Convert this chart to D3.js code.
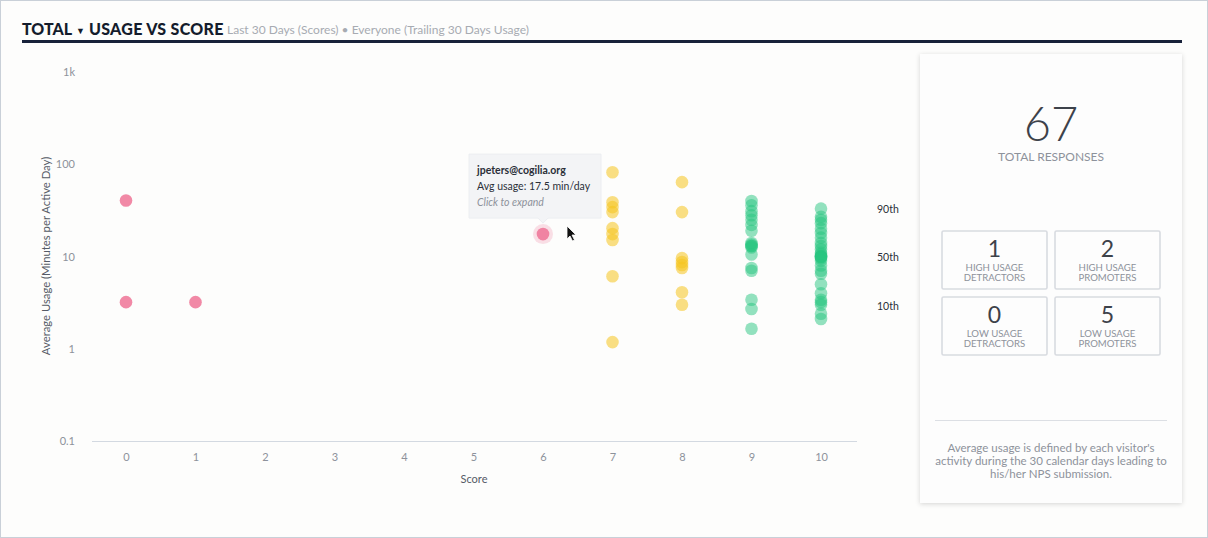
<!DOCTYPE html>
<html>
<head>
<meta charset="utf-8">
<script src="https://cdn.jsdelivr.net/npm/d3@7"></script>
<style>
  body { margin: 0; background: #fdfdfc; }
  svg { display: block; font-family: Lato, "Open Sans", sans-serif; }
</style>
</head>
<body>
<div id="chart"></div>
<script>
// scores and average usage (min per active day) per response
const scores0 = [0, 0, 1, 6];
const usage0 = [40.5, 3.2, 3.2, 17.5];
const scores7 = [7, 7, 7, 7, 7, 7, 7, 7, 7];
const usage7 = [82, 38.8, 34.3, 30.3, 20.3, 17.5, 15.1, 6.1, 1.18];
const scores8 = [8, 8, 8, 8, 8, 8, 8, 8];
const usage8 = [64, 30.3, 9.6, 8.7, 8.1, 7.5, 4.1, 3.0];
const scores9 = [9, 9, 9, 9, 9, 9, 9, 9, 9, 9, 9, 9, 9, 9, 9, 9, 9, 9];
const usage9 = [40, 36, 31, 28, 25, 22, 19, 14, 13.5, 13, 13, 12.5, 10.5, 7.5, 7, 3.4, 2.7, 1.65];
const scores10 = [10, 10, 10, 10, 10, 10, 10, 10, 10, 10, 10, 10, 10, 10, 10, 10, 10, 10, 10, 10, 10, 10, 10, 10, 10, 10, 10, 10];
const usage10 = [33, 27, 25, 23, 20, 18, 16, 14, 13, 12, 11, 10.5, 10, 10, 10, 9.8, 9.5, 9, 8, 7, 6.5, 5, 4, 3.4, 3.2, 3, 2.4, 2.1];

const xTicks = [0, 1, 2, 3, 4, 5, 6, 7, 8, 9, 10];
const yTicks = [0.1, 1, 10, 100, 1000];
const pctLabels = ["90th", "50th", "10th"];
const pctValues = [32.5, 10, 2.9];

const totalResponses = 67;
const boxValues = [1, 2, 0, 5];
const boxLabels = [["HIGH USAGE", "DETRACTORS"], ["HIGH USAGE", "PROMOTERS"],
                   ["LOW USAGE", "DETRACTORS"], ["LOW USAGE", "PROMOTERS"]];
const noteLines = ["Average usage is defined by each visitor's",
                   "activity during the 30 calendar days leading to",
                   "his/her NPS submission."];

const hovered = {score: 6, usage: 17.5, email: "jpeters@cogilia.org"};

const W = 1208, H = 538;
const svg = d3.select("#chart").append("svg")
  .attr("width", W).attr("height", H);

const defs = svg.append("defs");
const f = defs.append("filter").attr("id", "shadow")
  .attr("x", "-10%").attr("y", "-10%").attr("width", "120%").attr("height", "120%");
f.append("feDropShadow").attr("dx", 0).attr("dy", 1).attr("stdDeviation", 2.5)
  .attr("flood-color", "#000").attr("flood-opacity", 0.16);

svg.append("rect").attr("x", 0.5).attr("y", 0.5).attr("width", W - 1).attr("height", H - 1)
  .attr("fill", "#fdfdfc").attr("stroke", "#c9d0d8");

// header
const title = svg.append("text").attr("x", 22).attr("y", 35)
  .attr("font-size", 16).attr("font-weight", 900).attr("fill", "#141c2c");
title.append("tspan").text("TOTAL");
title.append("tspan").attr("font-size", 9).attr("dx", 4).attr("dy", -1.5).text("▼");
title.append("tspan").attr("dx", 4).attr("dy", 1.5).attr("letter-spacing", 0.3).text("USAGE VS SCORE");
svg.append("text").attr("x", 227).attr("y", 34).attr("font-size", 12)
  .attr("fill", "#a7abb2").text("Last 30 Days (Scores) • Everyone (Trailing 30 Days Usage)");
svg.append("rect").attr("x", 22).attr("y", 40).attr("width", 1160).attr("height", 3)
  .attr("fill", "#18223a");

// scales
const x = d3.scaleLinear().domain([0, 10]).range([126, 821]);
const y = d3.scaleLog().domain([0.1, 1000]).range([441, 72]);

svg.append("line").attr("x1", 92).attr("x2", 857)
  .attr("y1", y(0.1) + 0.5).attr("y2", y(0.1) + 0.5)
  .attr("stroke", "#d3d9e1").attr("stroke-width", 1);

const xAxis = svg.append("g").attr("transform", "translate(0," + (y(0.1) + 9) + ")")
  .call(d3.axisBottom(x).tickValues(xTicks).tickSize(0).tickFormat(d3.format("d")));
xAxis.select(".domain").remove();
xAxis.selectAll("text").attr("font-size", 11).attr("fill", "#8d929b")
  .attr("font-family", "Lato, sans-serif");

const yAxis = svg.append("g").attr("transform", "translate(78,0)")
  .call(d3.axisLeft(y).tickValues(yTicks).tickSize(0)
    .tickFormat(d => d >= 1000 ? (d / 1000) + "k" : String(d)));
yAxis.select(".domain").remove();
yAxis.selectAll("text").attr("font-size", 11).attr("fill", "#8d929b")
  .attr("font-family", "Lato, sans-serif");

svg.append("text").attr("x", 474).attr("y", 483).attr("text-anchor", "middle")
  .attr("font-size", 11).attr("fill", "#555b66").text("Score");
svg.append("text").attr("transform", "translate(50,256) rotate(-90)")
  .attr("text-anchor", "middle").attr("font-size", 11.3).attr("fill", "#555b66")
  .text("Average Usage (Minutes per Active Day)");

// points
function pts(s, u) { return s.map((d, i) => ({score: d, usage: u[i]})); }
const groups = [
  {data: pts(scores0, usage0), color: "#ee6f93", op: 0.82},
  {data: pts(scores7, usage7), color: "#f5c41e", op: 0.55},
  {data: pts(scores8, usage8), color: "#f5c41e", op: 0.55},
  {data: pts(scores9, usage9), color: "#27c57f", op: 0.5},
  {data: pts(scores10, usage10), color: "#27c57f", op: 0.5}
];

// halo of hovered point
svg.append("circle").attr("cx", x(hovered.score)).attr("cy", y(hovered.usage))
  .attr("r", 10).attr("fill", "#f7c9d6").attr("opacity", 0.6);

groups.forEach(g => {
  svg.append("g").selectAll("circle").data(g.data).enter().append("circle")
    .attr("cx", d => x(d.score)).attr("cy", d => y(d.usage))
    .attr("r", 6.3).attr("fill", g.color).attr("fill-opacity", g.op);
});

// percentile labels
svg.append("g").selectAll("text").data(pctLabels).enter().append("text")
  .attr("x", 877).attr("y", (d, i) => y(pctValues[i]) + 4)
  .attr("font-size", 10.5).attr("fill", "#2a2f38").text(d => d);

// tooltip
const tx = x(hovered.score), ty = y(hovered.usage);
const tip = svg.append("g");
tip.append("path")
  .attr("d", `M${tx - 74},${ty - 80} H${tx + 58} V${ty - 16} H${tx + 5} L${tx},${ty - 11} L${tx - 5},${ty - 16} H${tx - 74} Z`)
  .attr("fill", "#f3f4f6").attr("stroke", "#eceef1");
tip.append("text").attr("x", tx - 66).attr("y", ty - 60).attr("font-size", 10.5)
  .attr("font-weight", 700).attr("fill", "#2a2f38").text(hovered.email);
tip.append("text").attr("x", tx - 66).attr("y", ty - 44).attr("font-size", 10.5)
  .attr("fill", "#2a2f38").text("Avg usage: " + hovered.usage + " min/day");
tip.append("text").attr("x", tx - 66).attr("y", ty - 28).attr("font-size", 10.5)
  .attr("font-style", "italic").attr("fill", "#8d929b").text("Click to expand");

// mouse cursor
svg.append("path").attr("transform", "translate(567,226)")
  .attr("d", "M0,0 L0,13 L3,10 L5.5,15 L7.5,14 L5,9 L9,9 Z")
  .attr("fill", "#111").attr("stroke", "#fff").attr("stroke-width", 0.8);

// side card
const card = svg.append("g");
card.append("rect").attr("x", 920).attr("y", 54).attr("width", 262).attr("height", 449)
  .attr("fill", "#fdfdfd").attr("filter", "url(#shadow)");
card.append("text").attr("x", 1051).attr("y", 141).attr("text-anchor", "middle")
  .attr("font-size", 47).attr("font-weight", 300).attr("fill", "#3d424a").text(totalResponses);
card.append("text").attr("x", 1051).attr("y", 161).attr("text-anchor", "middle")
  .attr("font-size", 12).attr("fill", "#8d929b").text("TOTAL RESPONSES");

const boxX = [942, 1055], boxY = [231, 297];
boxValues.forEach((v, i) => {
  const bx = boxX[i % 2], by = boxY[Math.floor(i / 2)];
  const b = card.append("g");
  b.append("rect").attr("x", bx).attr("y", by).attr("width", 105).attr("height", 58)
    .attr("rx", 1.5).attr("fill", "none").attr("stroke", "#d8dbe0").attr("stroke-width", 1.6);
  b.append("text").attr("x", bx + 52.5).attr("y", by + 26).attr("text-anchor", "middle")
    .attr("font-size", 23).attr("fill", "#3d424a").text(v);
  boxLabels[i].forEach((l, j) => {
    b.append("text").attr("x", bx + 52.5).attr("y", by + 40 + j * 10).attr("text-anchor", "middle")
      .attr("font-size", 9.6).attr("fill", "#8d929b").text(l);
  });
});

card.append("line").attr("x1", 935).attr("x2", 1167).attr("y1", 420.5).attr("y2", 420.5)
  .attr("stroke", "#dcdfe4");
noteLines.forEach((l, i) => {
  card.append("text").attr("x", 1051).attr("y", 452 + i * 13).attr("text-anchor", "middle")
    .attr("font-size", 11.5).attr("fill", "#8d929b").text(l);
});
</script>
</body>
</html>
